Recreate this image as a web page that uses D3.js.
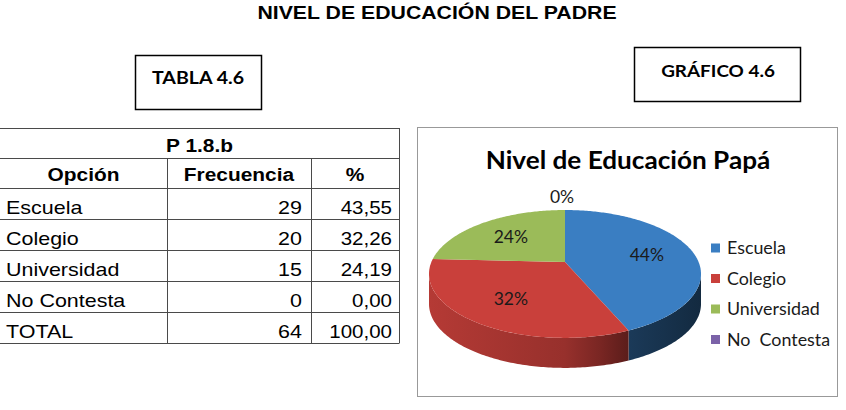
<!DOCTYPE html>
<html>
<head>
<meta charset="utf-8">
<script src="https://cdn.jsdelivr.net/npm/d3@7"></script>
<style>
  body { margin: 0; background: #fff; }
  svg { display: block; }
  text { white-space: pre; }
</style>
</head>
<body>
<svg id="chart" width="846" height="410"></svg>
<script>
// data
const pageTitle = "NIVEL DE EDUCACIÓN DEL PADRE";
const tableTitle = "TABLA 4.6";
const chartBoxTitle = "GRÁFICO 4.6";
const question = "P 1.8.b";
const headers = ["Opción", "Frecuencia", "%"];
const options = ["Escuela", "Colegio", "Universidad", "No Contesta"];
const freq = [29, 20, 15, 0];
const pct = [43.55, 32.26, 24.19, 0.00];
const totalLabel = "TOTAL";
const totalFreq = 64;
const totalPct = 100.00;
const pieTitle = "Nivel de Educación Papá";
const legendLabels = ["Escuela", "Colegio", "Universidad", "No  Contesta"];
const colors = ["#3a7ec2", "#c9403b", "#9bbb59", "#7b62a8"];

const svg = d3.select("#chart");
const SX = 1.13; // the reference is a bit stretched sideways
const fmt = v => v.toFixed(2).replace(".", ",");

function txt(g, x, y, s, o) {
    o = o || {};
    return g.append("text")
        .attr("transform", "translate(" + x + "," + y + ") scale(" + (o.sx || SX) + ",1)")
        .attr("text-anchor", o.anchor || "start")
        .attr("font-family", o.font || "'Liberation Sans', Arial, sans-serif")
        .attr("font-size", o.size || 19)
        .attr("font-weight", o.bold ? "bold" : "normal")
        .attr("fill", o.fill || "#000")
        .text(s);
}

// page title
txt(svg, 437, 19, pageTitle, {anchor: "middle", size: 19, bold: true, sx: 1.12});

// small caption boxes
svg.append("rect").attr("x", 135.5).attr("y", 55.5).attr("width", 126).attr("height", 54)
    .attr("fill", "none").attr("stroke", "#000").attr("stroke-width", 1.5);
txt(svg, 198, 84, tableTitle, {anchor: "middle", size: 17.5, bold: true, font: "Lato, sans-serif", sx: 1.12});
svg.append("rect").attr("x", 634.5).attr("y", 47.5).attr("width", 166).attr("height", 54)
    .attr("fill", "none").attr("stroke", "#000").attr("stroke-width", 1.5);
txt(svg, 718, 77, chartBoxTitle, {anchor: "middle", size: 17.5, bold: true, font: "Lato, sans-serif", sx: 1.08});

// ---- table ----
const tbl = svg.append("g");
const colX = [0, 167, 311, 399];
const rows = options.map((d, i) => [d, freq[i], fmt(pct[i])]);
rows.push([totalLabel, totalFreq, fmt(totalPct)]);
const rowY = d3.scaleBand().domain(d3.range(rows.length)).range([188, 343]);
const lineC = "#4a4a4a";

// horizontal lines
const hLines = [128, 158].concat(d3.range(rows.length).map(i => rowY(i)), [343]);
tbl.selectAll("line.h").data(hLines).enter().append("line")
    .attr("x1", colX[0]).attr("x2", colX[3])
    .attr("y1", d => d + 0.5).attr("y2", d => d + 0.5)
    .attr("stroke", lineC);
// vertical lines
tbl.append("line").attr("x1", colX[3] + 0.5).attr("x2", colX[3] + 0.5)
    .attr("y1", 128).attr("y2", 343.5).attr("stroke", lineC);
[colX[1], colX[2]].forEach(x => {
    tbl.append("line").attr("x1", x + 0.5).attr("x2", x + 0.5)
        .attr("y1", 158).attr("y2", 343.5).attr("stroke", lineC);
});

txt(tbl, (colX[0] + colX[3]) / 2, 152, question, {anchor: "middle", bold: true, size: 18.5});
headers.forEach((h, i) => {
    txt(tbl, (colX[i] + colX[i + 1]) / 2, 181, h, {anchor: "middle", bold: true, size: 18.5});
});
rows.forEach((r, i) => {
    const y = rowY(i) + rowY.bandwidth() / 2 + 10;
    txt(tbl, 6, y, r[0]);
    txt(tbl, colX[2] - 9, y, r[1], {anchor: "end"});
    txt(tbl, colX[3] - 7, y, r[2], {anchor: "end", sx: 1.08});
});

// ---- chart ----
svg.append("rect").attr("x", 417.5).attr("y", 127.5).attr("width", 420).attr("height", 269)
    .attr("fill", "#fff").attr("stroke", "#999");
txt(svg, 628, 169, pieTitle, {anchor: "middle", size: 24, bold: true, font: "Lato, sans-serif", sx: 1.09});

// perspective ellipse for the 3D pie
const CX = 565, CY = 262, A = 133.6, B = 61.7, K = 0.187, H = 30;
function proj(t, r, dz) {
    const u = r * Math.sin(t), w = r * Math.cos(t);
    const s = 1 / (1 + K * w);
    return [CX + A * u * s, CY - B * w * s + (dz || 0)];
}
function arcPts(a0, a1, r, dz) {
    const n = Math.max(2, Math.ceil((a1 - a0) / 0.015));
    return d3.range(n + 1).map(k => proj(a0 + (a1 - a0) * k / n, r, dz));
}

const pie = d3.pie().sort(null).startAngle(0).endAngle(2 * Math.PI);
const arcs = pie(pct);
const line = d3.line();

// side gradients
const defs = svg.append("defs");
const shade = [[0, 0.9], [0.5, 0.75], [0.63, 0.6], [0.73, 0.46], [1, 0.33]];
colors.forEach((c, i) => {
    const g = defs.append("linearGradient").attr("id", "side" + i)
        .attr("gradientUnits", "userSpaceOnUse")
        .attr("x1", CX - A * 1.02).attr("x2", CX + A * 1.02).attr("y1", 0).attr("y2", 0);
    const base = d3.rgb(c);
    shade.forEach(s => {
        g.append("stop").attr("offset", s[0])
            .attr("stop-color", d3.rgb(base.r * s[1], base.g * s[1], base.b * s[1]).formatHex());
    });
});

// visible side band
const t1 = Math.acos(-K), t2 = 2 * Math.PI - t1;
const pieG = svg.append("g");
arcs.forEach((a, i) => {
    const a0 = Math.max(a.startAngle, t1), a1 = Math.min(a.endAngle, t2);
    if (a1 <= a0) return;
    const top = arcPts(a0, a1, 1, 0);
    const bot = arcPts(a0, a1, 1, H).reverse();
    pieG.append("path").attr("d", line(top.concat(bot)) + "Z")
        .attr("fill", "url(#side" + i + ")");
});
// top faces
arcs.forEach((a, i) => {
    if (a.endAngle - a.startAngle <= 0) return;
    const pts = [[CX, CY]].concat(arcPts(a.startAngle, a.endAngle, 1, 0));
    pieG.append("path").attr("d", line(pts) + "Z").attr("fill", colors[i]);
});

// data labels
arcs.forEach((a, i) => {
    const mid = (a.startAngle + a.endAngle) / 2;
    const lab = Math.round(pct[i]) + "%";
    const o = {anchor: "middle", size: 17.5, font: "Lato, sans-serif", sx: 1, fill: "#1a1a1a"};
    if (pct[i] === 0) {
        const p = proj(mid, 1, 0);
        txt(pieG, p[0] - 3, p[1] - 7, lab, o);
    } else {
        const p = proj(mid, 0.64, 0);
        txt(pieG, p[0], p[1] + 7, lab, o);
    }
});

// legend
const leg = svg.append("g");
legendLabels.forEach((l, i) => {
    const y = 248 + i * 30.5;
    leg.append("rect").attr("x", 711).attr("y", y - 4.5).attr("width", 9).attr("height", 9).attr("fill", colors[i]);
    txt(leg, 727, y + 6, l, {size: 17, font: "Lato, sans-serif", sx: 1.05, fill: "#1a1a1a"});
});
</script>
</body>
</html>
